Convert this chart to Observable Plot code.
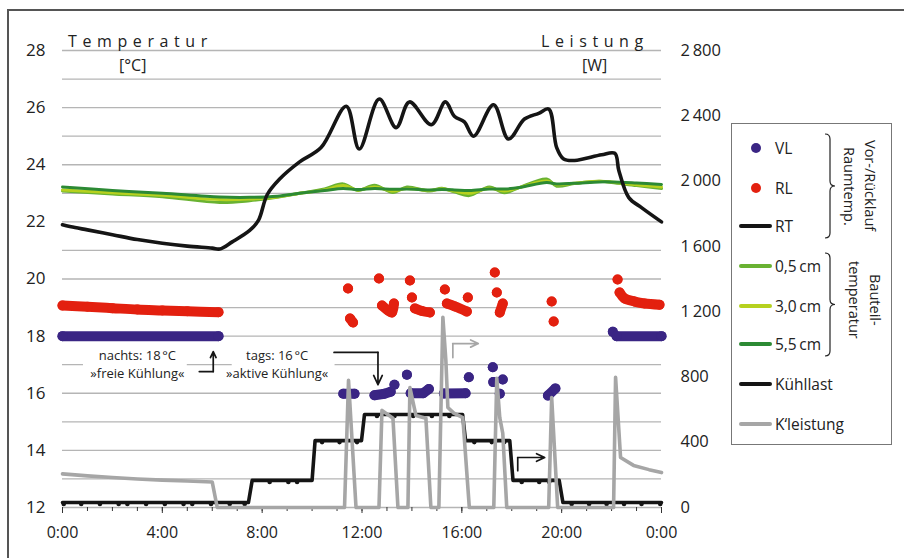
<!DOCTYPE html>
<html>
<head>
<meta charset="utf-8">
<script src="https://cdn.jsdelivr.net/npm/d3@7"></script>
<script src="https://cdn.jsdelivr.net/npm/@observablehq/plot@0.6"></script>
<style>
  body { margin: 0; background: #fff; }
  #wrap { position: relative; width: 904px; height: 558px; overflow: hidden; background: #fff;
          font-family: "Open Sans", "DejaVu Sans", sans-serif; color: #222; }
  #chart { position: absolute; left: 0; top: 0; }
  #frame { position: absolute; left: 7px; top: 9px; width: 1200px; height: 1200px;
           border: 2px solid #555; pointer-events: none; }
  .atitle { position: absolute; font-size: 16px; line-height: 1; white-space: nowrap; }
  .spaced { letter-spacing: 5.6px; }
  #legend { position: absolute; left: 731px; top: 123px; width: 159px; height: 320px;
            border: 1.5px solid #777; background: #fff; }
  .item { position: absolute; left: 0; height: 20px; font-size: 15.5px; line-height: 20px; }
  .item .sw { position: absolute; top: 10px; }
  .item .lab { position: absolute; left: 43px; top: 0; white-space: nowrap; }
  .group { position: absolute; writing-mode: vertical-rl; text-align: center; font-size: 14.5px;
           line-height: 21px; white-space: nowrap; }
</style>
</head>
<body>
<div id="wrap">
  <div id="chart"></div>
  <div class="atitle spaced" style="left:68px; top:33px;">Temperatur</div>
  <div class="atitle" style="left:119px; top:57px;">[°C]</div>
  <div class="atitle spaced" style="left:541px; top:33px;">Leistung</div>
  <div class="atitle" style="left:582px; top:57px;">[W]</div>
  <div id="legend"></div>
  <div id="frame"></div>
</div>
<script>
// Raumtemperatur RT (°C) over the day (hours)
const rtTime = [0,0.5,1,2,3,4,5,6,6.3,6.8,7.5,7.85,8.2,8.7,9.5,10.36,11.37,11.89,12.69,13.37,13.9,14.78,15.34,15.7,16.1,16.47,17.27,17.87,18.51,19.08,19.48,19.8,20.08,20.52,21.6,22.13,22.29,22.69,23.2,24];
const rtTemp = [21.9,21.8,21.72,21.55,21.38,21.25,21.15,21.08,21.05,21.3,21.7,22.05,22.95,23.5,24.1,24.6,26.05,24.55,26.3,25.3,26.2,25.4,26.2,25.7,25.5,25.0,26.1,24.9,25.6,25.8,25.95,24.6,24.2,24.15,24.35,24.4,23.8,22.85,22.5,22.0];

// Bauteiltemperatur in 0,5 / 3,0 / 5,5 cm depth (°C)
const greenTime = [0,2,4,6.3,7.5,8.6,9.5,10.5,11.24,11.84,12.5,13.24,13.8,14.7,15.2,15.7,16.3,17.1,17.7,18.3,19.4,19.8,20.5,21.5,22.0,23.0,24];
const temp05 = [23.08,22.98,22.88,22.68,22.74,22.86,23.0,23.15,23.33,23.1,23.28,23.03,23.22,23.08,23.18,23.05,22.92,23.22,23.02,23.2,23.5,23.25,23.34,23.42,23.38,23.27,23.17];
const temp30 = [23.12,23.02,22.93,22.78,22.8,22.87,23.0,23.12,23.27,23.12,23.22,23.08,23.17,23.1,23.15,23.08,23.0,23.18,23.08,23.2,23.43,23.3,23.35,23.42,23.4,23.3,23.22];
const temp55 = [23.22,23.1,23.0,22.87,22.86,22.9,23.0,23.1,23.17,23.13,23.17,23.14,23.15,23.12,23.13,23.12,23.1,23.15,23.15,23.2,23.38,23.33,23.35,23.4,23.4,23.36,23.31];

// Vorlauf VL: [hour, °C, run] – points of one run are measured back to back
const vlPoints = [
  [0,18.0,1],[6.25,18.0,1],
  [11.25,15.98,2],[11.7,15.98,2],
  [12.5,15.93,3],[12.9,15.98,3],[13.15,16.05,3],
  [13.3,16.3,4],
  [13.8,16.65,5],
  [13.95,16.0,6],[14.45,16.0,6],[14.68,16.15,6],
  [15.28,15.99,7],[16.15,16.0,7],
  [16.28,16.56,8],
  [17.24,16.91,9],
  [17.26,16.39,10],
  [17.64,16.48,11],
  [17.52,15.98,12],
  [19.45,15.92,13],[19.75,16.17,13],
  [22.05,18.15,14],
  [22.2,18.0,15],[24,18.0,15]
];

// Rücklauf RL: [hour, °C, run]
const rlPoints = [
  [0,19.07,1],[1,19.03,1],[2,18.98,1],[3,18.93,1],[4,18.9,1],[5,18.87,1],[6.25,18.84,1],
  [11.44,19.67,2],
  [11.52,18.62,3],[11.64,18.48,3],
  [12.68,20.02,4],
  [12.8,19.07,5],[13.04,18.9,5],[13.2,18.83,5],[13.28,19.14,5],
  [13.92,19.95,6],
  [14.0,19.35,7],
  [14.12,18.97,8],[14.4,18.88,8],[14.72,18.83,8],
  [15.32,19.63,9],
  [15.4,19.14,10],[15.72,19.04,10],[16.2,18.86,10],
  [16.24,19.35,11],
  [17.32,20.23,12],
  [17.4,19.53,13],
  [17.52,18.83,14],[17.64,19.14,14],
  [19.6,19.21,15],
  [19.68,18.51,16],
  [22.24,19.98,17],
  [22.32,19.53,18],[22.52,19.32,18],[22.92,19.21,18],[23.32,19.14,18],[23.92,19.1,18]
];

// Kühllast (W) and the times of its logged samples
const klTime = [0,7.45,7.6,10.0,10.12,11.98,12.1,16.03,16.15,17.92,18.05,19.9,20.05,24];
const klPower = [31,31,166,166,410,410,570,570,410,410,166,166,31,31];
const klSampleTimes = [0.05,0.75,1.5,2.25,2.6,3.35,4.1,4.85,5.2,5.95,6.7,7.3,8.3,9.05,9.4,10.4,11.1,11.8,12.6,13.3,14.05,14.8,15.5,16.5,17.2,17.7,18.4,19.1,19.5,20.4,21.1,21.8,22.5,23.2,23.95];

// Kühlleistung K'leistung (W)
const kTime = [0,1,2,3,4,5,6.0,6.2, 11.3,11.46,11.76, 12.68,12.8,13.24,13.44, 13.84,13.92,14.16,14.56,14.76, 15.08,15.24,15.36,15.44,15.68,16.04,16.3, 17.28,17.4,17.52,17.64,17.8, 19.48,19.6,19.84, 22.08,22.16,22.36,22.88,23.5,24];
const kPower = [206,194,184,175,168,162,156,0, 0,779,0, 0,595,547,0, 0,735,564,547,0, 0,1166,901,613,578,551,0, 0,792,551,455,0, 0,674,0, 0,798,306,258,232,214];

// Axis ticks
const tempTicks = [12,14,16,18,20,22,24,26,28];
const powerTicks = [0,400,800,1200,1600,2000,2400,2800];
const hourTicks = [0,4,8,12,16,20,24];

// Power axis shares the temperature scale: 0 W at 12 °C, 2800 W at 28 °C
const wToC = w => 12 + w / 175;
const cToW = c => Math.round((c - 12) * 175);
const fmtW = v => v >= 1000 ? String(v).replace(/(\d)(\d{3})$/, "$1\u2009$2") : String(v);

const C = {
  vl: "#3a2584", rl: "#e3200f", rt: "#151515",
  g05: "#69b232", g30: "#b6d11f", g55: "#2c8a34",
  kl: "#151515", kw: "#a6a6a6", grid: "#b5b5b5"
};

const rt = rtTime.map((t, i) => ({t, v: rtTemp[i]}));
const greens = [
  {key: "05", vals: temp05},
  {key: "30", vals: temp30},
  {key: "55", vals: temp55}
].flatMap(s => greenTime.map((t, i) => ({t, v: s.vals[i], key: s.key})));
const greenColor = {"05": C.g05, "30": C.g30, "55": C.g55};
const vl = vlPoints.map(([t, v, run]) => ({t, v, run}));
const rl = rlPoints.map(([t, v, run]) => ({t, v, run}));
const kl = klTime.map((t, i) => ({t, v: wToC(klPower[i])}));
// sample markers sit on the step level that holds at their time
const klAt = t => klPower[Math.max(0, d3.bisectRight(klTime, t) - 1)];
const klSamples = klSampleTimes.map(t => ({t, v: wToC(klAt(t))}));
const kw = kTime.map((t, i) => ({t, v: wToC(kPower[i])}));

// Annotations (hours, °C)
const notes = [
  {x: 3.0, y: 17.06, text: "nachts: 18\u202F°C\n»freie Kühlung«", x1: 0.84, x2: 5.0},
  {x: 8.6, y: 17.06, text: "tags: 16\u202F°C\n»aktive Kühlung«", x1: 6.8, x2: 10.92}
];
const elbows = [
  {id: "n", color: "#151515", pts: [[5.48, 16.76], [6.04, 16.76]], head: [[6.04, 16.76], [6.04, 17.46]]},
  {id: "t", color: "#151515", pts: [[10.88, 17.43], [12.64, 17.43]], head: [[12.64, 17.43], [12.64, 16.3]]},
  {id: "k", color: "#a6a6a6", pts: [[15.64, 17.25], [15.64, 17.74]], head: [[15.64, 17.74], [16.66, 17.74]]},
  {id: "l", color: "#151515", pts: [[18.24, 13.29], [18.24, 13.75]], head: [[18.24, 13.75], [19.32, 13.75]]}
];
const elbowLines = elbows.flatMap(e => e.pts.map(([x, y]) => ({x, y, id: e.id, color: e.color})));
const elbowHeads = elbows.map(e => ({x1: e.head[0][0], y1: e.head[0][1], x2: e.head[1][0], y2: e.head[1][1], color: e.color}));

const chart = Plot.plot({
  width: 904, height: 558,
  marginLeft: 62, marginRight: 243, marginTop: 50, marginBottom: 51,
  x: {domain: [0, 24]},
  y: {domain: [12, 28]},
  style: {background: "transparent", fontFamily: "'Open Sans', 'DejaVu Sans', sans-serif", color: "#222", overflow: "visible"},
  marks: [
    Plot.gridY(d3.range(12, 29), {stroke: C.grid, strokeOpacity: 1, strokeWidth: 1.3}),
    Plot.axisY(tempTicks, {anchor: "left", tickSize: 0, tickPadding: 17, fontSize: 17, label: null}),
    Plot.axisY(powerTicks.map(wToC), {anchor: "right", tickSize: 0, tickPadding: 19, fontSize: 16.5, label: null,
      tickFormat: d => fmtW(cToW(d))}),
    Plot.axisX(d3.range(0, 25), {tickSize: 4, tickFormat: () => "", label: null, stroke: "#333"}),
    Plot.axisX(hourTicks, {tickSize: 6, tickPadding: 13, fontSize: 16, label: null, stroke: "#333",
      tickFormat: d => `${d % 24}:00`}),

    // white boxes behind the annotation texts
    Plot.rect(notes, {x1: "x1", x2: "x2", y1: 16.58, y2: 17.25, fill: "white"}),
    Plot.text(notes, {x: "x", y: "y", text: "text", fontSize: 13, lineHeight: 1.45, fill: "#222"}),
    Plot.line(elbowLines, {x: "x", y: "y", z: "id", stroke: "color", strokeWidth: 1.7}),
    Plot.arrow(elbowHeads, {x1: "x1", y1: "y1", x2: "x2", y2: "y2", stroke: "color", strokeWidth: 1.7,
      headLength: 9, headAngle: 50}),

    // Bauteiltemperaturen
    Plot.line(greens, {x: "t", y: "v", z: "key", stroke: d => greenColor[d.key], strokeWidth: 3, curve: "catmull-rom"}),
    // Raumtemperatur
    Plot.line(rt, {x: "t", y: "v", stroke: C.rt, strokeWidth: 3.6, curve: "catmull-rom"}),
    // Kühllast with its sample markers
    Plot.line(kl, {x: "t", y: "v", stroke: C.kl, strokeWidth: 3.6, strokeLinejoin: "round"}),
    Plot.dot(klSamples, {x: "t", y: "v", r: 2.3, dy: 1.5, fill: C.kl}),
    // Vorlauf / Rücklauf
    Plot.line(rl, {x: "t", y: "v", z: "run", stroke: C.rl, strokeWidth: 10, strokeLinecap: "round", curve: "catmull-rom"}),
    Plot.dot(rl, {x: "t", y: "v", r: 5, fill: C.rl}),
    Plot.line(vl, {x: "t", y: "v", z: "run", stroke: C.vl, strokeWidth: 10, strokeLinecap: "round"}),
    Plot.dot(vl, {x: "t", y: "v", r: 5, fill: C.vl}),
    // Kühlleistung
    Plot.line(kw, {x: "t", y: "v", stroke: C.kw, strokeWidth: 3.6, strokeLinejoin: "round"})
  ]
});
document.getElementById("chart").appendChild(chart);

// Legend
const legendItems = [
  {label: "VL", kind: "dot", color: C.vl, top: 14},
  {label: "RL", kind: "dot", color: C.rl, top: 54},
  {label: "RT", kind: "line", color: C.rt, top: 92},
  {label: "0,5\u2009cm", kind: "line", color: C.g05, top: 132},
  {label: "3,0\u2009cm", kind: "line", color: C.g30, top: 172},
  {label: "5,5\u2009cm", kind: "line", color: C.g55, top: 210},
  {label: "Kühllast", kind: "line", color: C.kl, top: 250},
  {label: "K\u2018leistung", kind: "line", color: C.kw, top: 290}
];
const legend = document.getElementById("legend");
for (const it of legendItems) {
  const row = document.createElement("div");
  row.className = "item";
  row.style.top = it.top + "px";
  const sw = document.createElement("div");
  sw.className = "sw";
  if (it.kind === "dot") {
    Object.assign(sw.style, {left: "19px", width: "10px", height: "10px", marginTop: "-5px", borderRadius: "50%", background: it.color});
  } else {
    Object.assign(sw.style, {left: "7px", width: "33px", height: "4px", marginTop: "-2px", borderRadius: "2px", background: it.color});
  }
  const lab = document.createElement("div");
  lab.className = "lab";
  lab.textContent = it.label;
  row.append(sw, lab);
  legend.appendChild(row);
}
// braces and grouped captions
const ns = "http://www.w3.org/2000/svg";
const bsvg = document.createElementNS(ns, "svg");
bsvg.setAttribute("width", 159); bsvg.setAttribute("height", 320);
bsvg.style.position = "absolute"; bsvg.style.left = "0"; bsvg.style.top = "0";
function brace(x, y0, y1) {
  const m = (y0 + y1) / 2, w = 5;
  return `M${x},${y0} q${w},0 ${w},${w} V${m - w} q0,${w} ${w},${w} q-${w},0 -${w},${w} V${y1 - w} q0,${w} -${w},${w}`;
}
for (const [y0, y1] of [[10, 114], [129, 232]]) {
  const p = document.createElementNS(ns, "path");
  p.setAttribute("d", brace(93, y0, y1));
  p.setAttribute("fill", "none"); p.setAttribute("stroke", "#222"); p.setAttribute("stroke-width", "1.2");
  bsvg.appendChild(p);
}
legend.appendChild(bsvg);
const groups = [
  {lines: ["Vor-/Rücklauf", "Raumtemp."], left: 107, top: 10, height: 104},
  {lines: ["Bauteil-", "temperatur"], left: 112, top: 128, height: 96}
];
for (const g of groups) {
  const d = document.createElement("div");
  d.className = "group";
  Object.assign(d.style, {left: g.left + "px", top: g.top + "px", height: g.height + "px"});
  d.innerHTML = g.lines.join("<br>");
  legend.appendChild(d);
}
</script>
</body>
</html>
